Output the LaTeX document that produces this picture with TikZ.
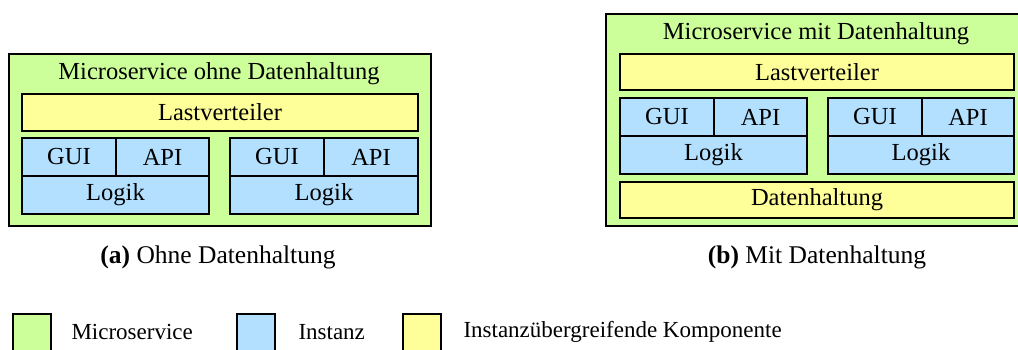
\documentclass[tikz,border=0pt]{standalone}
\usepackage{fontspec}
\setmainfont{Liberation Serif}
\usetikzlibrary{positioning}
\definecolor{msgreen}{RGB}{204,255,153}
\definecolor{instblue}{RGB}{179,224,255}
\definecolor{compyellow}{RGB}{255,255,153}

\begin{document}
\begin{tikzpicture}[x=1pt, y=-1pt, font=\fontsize{24.5}{27}\selectfont,
  box/.style={draw, line width=2pt, anchor=north west, inner sep=0pt, align=center},
  ms/.style={box, fill=msgreen},
  inst/.style={box, fill=instblue},
  comp/.style={box, fill=compyellow},
  subcap/.style={font=\fontsize{25.5}{28}\selectfont},
  legtext/.style={anchor=west, font=\fontsize{23}{25}\selectfont}]
\useasboundingbox (0,0) rectangle (1018,349);
\clip (0,0) rectangle (1018,349);
% (a) ohne Datenhaltung
\node[ms, minimum width=422pt, minimum height=172pt] (msA) at (8,53) {};
\node (titleA) at (219,74) {Microservice ohne Datenhaltung};
\node[comp, minimum width=396pt, minimum height=37pt] (lvA) at (21,93) {Lastverteiler};
\node[inst, minimum width=94pt, minimum height=38pt] (guiA1) at (21,137) {GUI};
\node[inst, minimum width=93pt, minimum height=38pt] (apiA1) at (115,137) {API};
\node[inst, minimum width=187pt, minimum height=38pt] (logA1) at (21,175) {Logik};
\node[inst, minimum width=94pt, minimum height=38pt] (guiA2) at (229,137) {GUI};
\node[inst, minimum width=94pt, minimum height=38pt] (apiA2) at (323,137) {API};
\node[inst, minimum width=188pt, minimum height=38pt] (logA2) at (229,175) {Logik};
\node[subcap] (capA) at (218,257) {\textbf{(a)} Ohne Datenhaltung};
% (b) mit Datenhaltung
\node[ms, minimum width=422pt, minimum height=212pt] (msB) at (605,13) {};
\node (titleB) at (816,34) {Microservice mit Datenhaltung};
\node[comp, minimum width=394pt, minimum height=36pt] (lvB) at (619,53) {Lastverteiler};
\node[inst, minimum width=94pt, minimum height=38pt] (guiB1) at (619,97) {GUI};
\node[inst, minimum width=93pt, minimum height=38pt] (apiB1) at (713,97) {API};
\node[inst, minimum width=187pt, minimum height=38pt] (logB1) at (619,135) {Logik};
\node[inst, minimum width=94pt, minimum height=38pt] (guiB2) at (827,97) {GUI};
\node[inst, minimum width=92pt, minimum height=38pt] (apiB2) at (921,97) {API};
\node[inst, minimum width=186pt, minimum height=38pt] (logB2) at (827,135) {Logik};
\node[comp, minimum width=394pt, minimum height=36pt] (dhB) at (619,181) {Datenhaltung};
\node[subcap] (capB) at (817,257) {\textbf{(b)} Mit Datenhaltung};
% Legende
\node[ms, minimum width=38pt, minimum height=40pt] (legMs) at (12,313) {};
\node[legtext] (txtMs) at (68,332) {Microservice};
\node[inst, minimum width=38pt, minimum height=40pt] (legInst) at (236,313) {};
\node[legtext] (txtInst) at (295,332) {Instanz};
\node[comp, minimum width=38pt, minimum height=40pt] (legComp) at (402,313) {};
\node[legtext] (txtComp) at (460,332) {Instanzübergreifende Komponente};
\end{tikzpicture}
\end{document}
